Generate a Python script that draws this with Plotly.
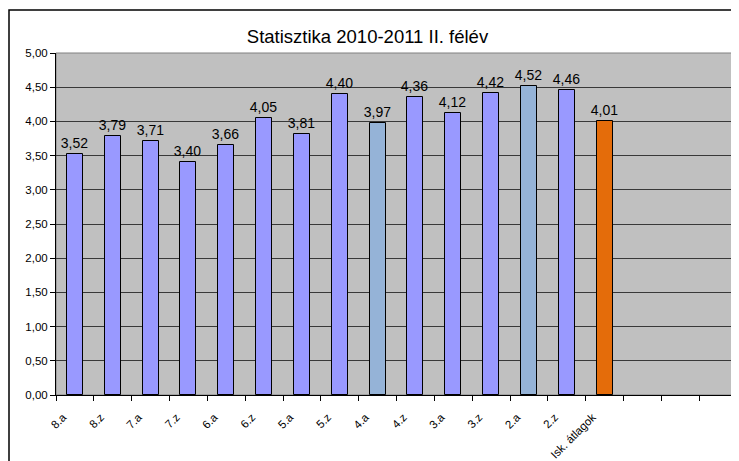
import plotly.graph_objects as go

categories = ["8.a", "8.z", "7.a", "7.z", "6.a", "6.z", "5.a", "5.z", "4.a", "4.z",
              "3.a", "3.z", "2.a", "2.z", "Isk. átlagok"]
values = [3.52, 3.79, 3.71, 3.40, 3.66, 4.05, 3.81, 4.40, 3.97, 4.36,
          4.12, 4.42, 4.52, 4.46, 4.01]
bar_colors = ["#9999FF", "#9999FF", "#9999FF", "#9999FF", "#9999FF", "#9999FF", "#9999FF",
              "#9999FF", "#95B3D7", "#9999FF", "#9999FF", "#9999FF", "#95B3D7", "#9999FF",
              "#E46C0A"]
empty_categories = [" ", "  ", "   "]

x_all = categories + empty_categories
y_all = values + [None] * len(empty_categories)
colors_all = bar_colors + ["#9999FF"] * len(empty_categories)

FONT = "Arial, Liberation Sans, sans-serif"
W, H = 731, 453          # page body has an 8px margin
L, R, T, B = 48, 2, 45, 66
plot_w = W - L - R
plot_h = H - T - B

fig = go.Figure()
fig.add_trace(go.Bar(
    x=x_all, y=y_all,
    marker=dict(color=colors_all, line=dict(color="black", width=1)),
    width=0.42,
    texttemplate="%{y:.2f}",
    textposition="outside",
    constraintext="none",
    textfont=dict(family=FONT, size=14, color="black"),
    cliponaxis=False,
    hoverinfo="skip",
))

fig.update_layout(
    width=W, height=H,
    separators=", ",
    paper_bgcolor="white",
    plot_bgcolor="#C0C0C0",
    margin=dict(l=L, r=R, t=T, b=B, autoexpand=False),
    showlegend=False,
    font=dict(family=FONT, color="black"),
    title=dict(text="Statisztika 2010-2011 II. félév", x=359.5 / W, xref="container",
               y=1 - 29 / H, yref="container", yanchor="middle", xanchor="center",
               font=dict(family=FONT, size=18.5, color="black")),
    bargap=0,
)
fig.update_xaxes(
    type="category", categoryorder="array", categoryarray=x_all,
    range=[-0.5, len(x_all) - 0.5],
    tickson="boundaries", ticks="outside", ticklen=5, tickcolor="black",
    tickangle=-45, tickfont=dict(size=11.5, family=FONT, color="black"),
    ticklabelshift=-12, ticklabelstandoff=10,
    showline=True, linecolor="black", linewidth=1,
    showgrid=False, zeroline=False, automargin=False,
)
fig.update_yaxes(
    range=[0, 5], dtick=0.5, tickformat=".2f",
    ticks="outside", ticklen=5, tickcolor="black",
    tickfont=dict(size=11.5, family=FONT, color="black"),
    showline=True, linecolor="black", linewidth=1,
    showgrid=True, gridcolor="#383838", gridwidth=1,
    zeroline=False, automargin=False,
)
# plot area border (grey)
fig.add_shape(type="rect", xref="paper", yref="paper", x0=0, x1=1, y0=0, y1=1,
              line=dict(color="#808080", width=1), layer="below")
# outer chart frame
fig.add_shape(type="rect", xref="paper", yref="paper",
              x0=-(L - 1) / plot_w, x1=1.2, y0=-0.4, y1=1 + (T - 2) / plot_h,
              line=dict(color="black", width=1.5), layer="above")

fig.write_html("out.html")
